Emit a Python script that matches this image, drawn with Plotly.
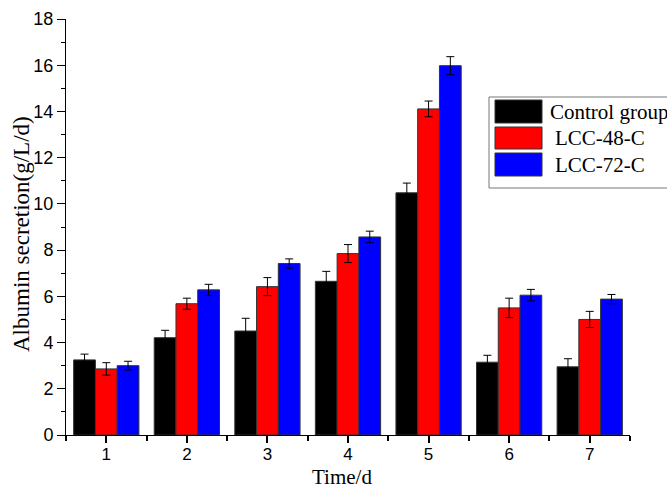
import plotly.graph_objects as go

days = [1, 2, 3, 4, 5, 6, 7]
tick_labels = ["1", "2", "3", "4", "5", "6", "7"]
series_names = ["Control group", "LCC-48-C", "LCC-72-C"]
control = [3.25, 4.21, 4.50, 6.65, 10.48, 3.15, 2.95]
control_err = [0.25, 0.32, 0.55, 0.43, 0.42, 0.30, 0.35]
lcc48 = [2.86, 5.68, 6.42, 7.85, 14.11, 5.50, 5.00]
lcc48_err = [0.27, 0.24, 0.39, 0.39, 0.34, 0.42, 0.35]
lcc72 = [3.00, 6.28, 7.42, 8.57, 15.98, 6.05, 5.88]
lcc72_err = [0.19, 0.24, 0.20, 0.25, 0.39, 0.25, 0.20]
colors = ["#000000", "#ff0000", "#0000ff"]

fig = go.Figure()
for name, vals, errs, col in zip(series_names, [control, lcc48, lcc72],
                                 [control_err, lcc48_err, lcc72_err], colors):
    fig.add_trace(go.Bar(
        x=days, y=vals, name=name, showlegend=False,
        marker=dict(color=col, line=dict(color="#333333", width=1)),
        error_y=dict(type="data", array=errs, visible=True, color="#000000",
                     thickness=1, width=4),
    ))

# Pixel geometry of the plot area, used only to place the legend and titles
L, R, T, B = 66, 630, 19, 435
W, H = R - L, B - T
def px(x):
    return (x - L) / W
def py(y):
    return (B - y) / H

shapes = [dict(type="rect", xref="paper", yref="paper",
               x0=px(489), x1=px(675), y0=py(188), y1=py(97),
               line=dict(color="#777777", width=1), fillcolor="white", layer="above")]
swatch_rows = [(100, 123), (127, 149), (153, 176)]
annos = []
text_x = [548, 553, 553]
for (y0, y1), col, name, tx in zip(swatch_rows, colors, series_names, text_x):
    shapes.append(dict(type="rect", xref="paper", yref="paper",
                       x0=px(495), x1=px(542), y0=py(y1), y1=py(y0),
                       line=dict(color="#333333", width=1), fillcolor=col, layer="above"))
    annos.append(dict(xref="paper", yref="paper", x=px(tx), y=py((y0 + y1) / 2),
                      text=name, showarrow=False, xanchor="left", yanchor="middle",
                      font=dict(family="Liberation Serif", size=21, color="black")))

annos.append(dict(xref="paper", yref="paper", x=px(342), y=py(477),
                  text="Time/d", showarrow=False, xanchor="center", yanchor="middle",
                  borderpad=0,
                  font=dict(family="Liberation Serif", size=21, color="black")))
annos.append(dict(xref="paper", yref="paper", x=px(21), y=py(234),
                  text="Albumin secretion(g/L/d)", showarrow=False, textangle=-90,
                  xanchor="center", yanchor="middle",
                  font=dict(family="Liberation Serif", size=23, color="black")))

fig.update_layout(
    width=667, height=489,
    margin=dict(l=L, r=667 - R, t=T, b=489 - B),
    paper_bgcolor="white", plot_bgcolor="white",
    barmode="group", bargap=0.19, bargroupgap=0,
    shapes=shapes, annotations=annos,
    xaxis=dict(
        range=[0.5, 7.5], tickvals=days, ticktext=tick_labels, automargin=False,
        showline=True, linecolor="black", linewidth=1, mirror=False,
        ticks="outside", ticklen=7, tickcolor="black", tickwidth=1.5,
        ticklabelstandoff=-3,
        minor=dict(tickvals=[0.5, 1.5, 2.5, 3.5, 4.5, 5.5, 6.5, 7.5], ticks="outside", ticklen=5, tickcolor="black"),
        showgrid=False, zeroline=False,
        tickfont=dict(family="Liberation Sans", size=17, color="black"),
    ),
    yaxis=dict(
        range=[0, 18], tickvals=[0, 2, 4, 6, 8, 10, 12, 14, 16, 18], automargin=False,
        showline=True, linecolor="black", linewidth=1,
        ticks="outside", ticklen=8, tickcolor="black", tickwidth=1,
        minor=dict(dtick=1, ticks="outside", ticklen=4, tickcolor="black"),
        showgrid=False, zeroline=False,
        tickfont=dict(family="Liberation Sans", size=18, color="black"),
    ),
)

fig.write_html("out.html")
